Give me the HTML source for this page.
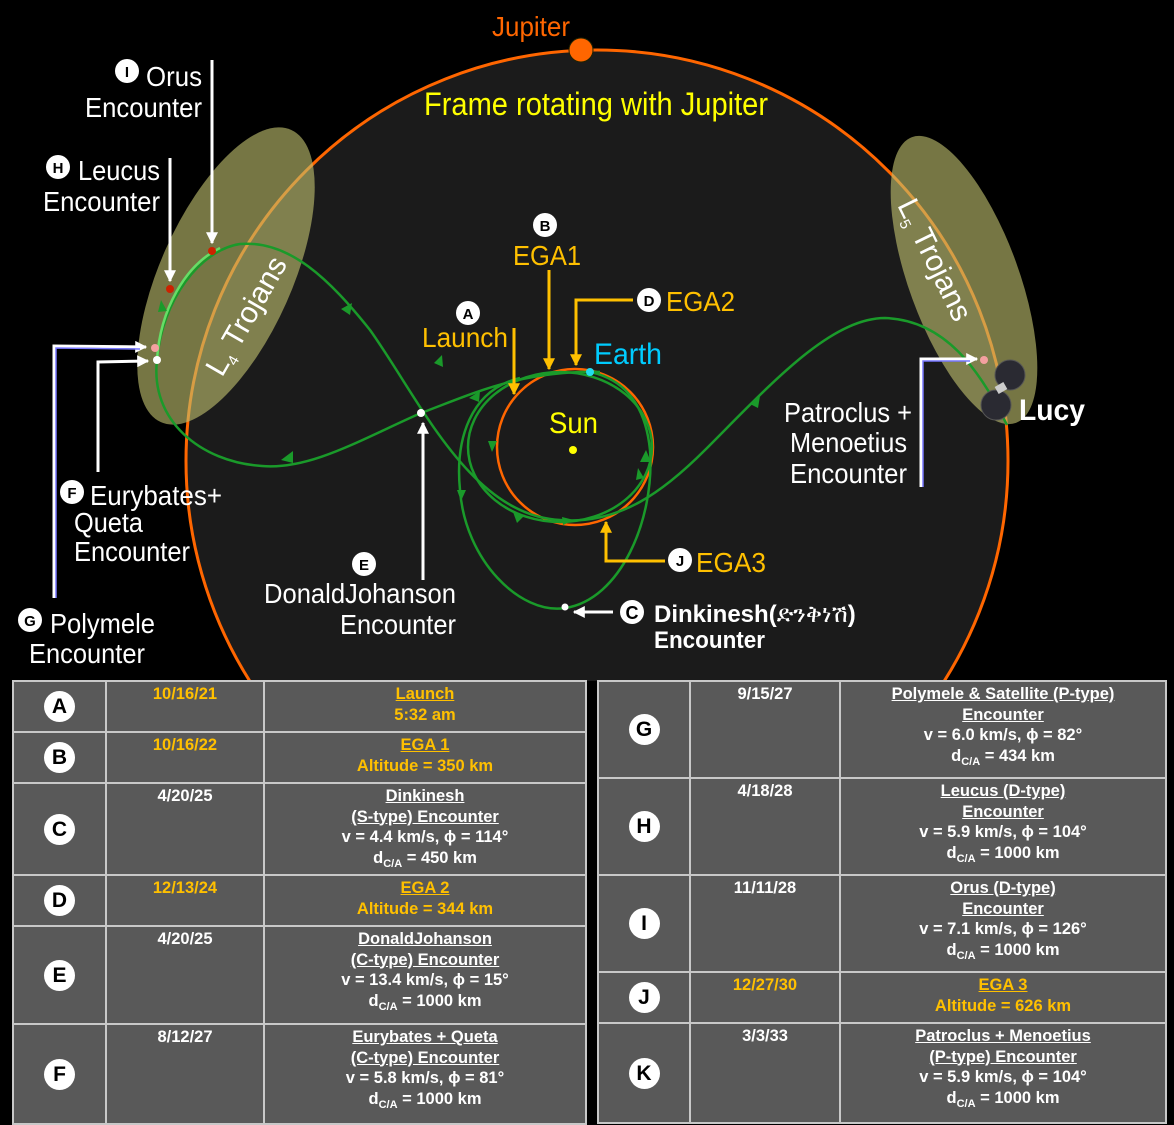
<!DOCTYPE html>
<html><head><meta charset="utf-8">
<style>
html,body{margin:0;padding:0;background:#000;}
body{width:1174px;height:1123px;overflow:hidden;position:relative;}
svg{position:absolute;left:0;top:0;}
.t{font-family:"Liberation Sans",sans-serif;}
table{position:absolute;border-collapse:collapse;font-family:"Liberation Sans",sans-serif;font-weight:bold;font-size:16.5px;color:#fff;}
td{background:#595959;border:2px solid #c8c8c8;text-align:center;vertical-align:top;padding:2px 0 0 0;line-height:20.5px;}
td.b{vertical-align:middle;padding:0;}
.badge{display:inline-block;width:31px;height:31px;border-radius:50%;background:#fff;color:#000;font-size:21px;line-height:31px;text-align:center;}
.y{color:#ffc000;}
u{text-decoration:underline;}
sub{font-size:11px;vertical-align:-4px;line-height:0;}
</style></head><body>
<svg width="1174" height="1123" viewBox="0 0 1174 1123">
<defs>
<clipPath id="top"><rect x="0" y="0" width="1174" height="681"/></clipPath>
<marker id="wa" viewBox="0 0 10 10" refX="9" refY="5" markerWidth="5" markerHeight="4" orient="auto"><path d="M0,0 L10,5 L0,10 z" fill="#fff"/></marker>
<marker id="ya" viewBox="0 0 10 10" refX="9" refY="5" markerWidth="4" markerHeight="4" orient="auto"><path d="M0,0 L10,5 L0,10 z" fill="#ffc000"/></marker>
</defs>
<rect width="1174" height="1123" fill="#000"/>
<circle cx="597" cy="461" r="411" fill="#1b1b1b" stroke="#ff6600" stroke-width="3" clip-path="url(#top)"/>
<!-- Trojan clouds -->
<ellipse cx="226" cy="276" rx="160" ry="66" transform="rotate(-66 226 276)" fill="rgba(190,190,110,0.62)"/>
<ellipse cx="964" cy="280" rx="152" ry="55" transform="rotate(70 964 280)" fill="rgba(190,190,110,0.62)"/>
<!-- Jupiter -->
<circle cx="581" cy="50" r="12" fill="#ff6600" stroke="#220" stroke-width="1"/>
<!-- Earth orbit -->
<circle cx="575" cy="447" r="78" fill="none" stroke="#ff6600" stroke-width="2.5"/>
<!-- green trajectories -->
<g fill="none" stroke="#1a9a2a" stroke-width="2.5">
<ellipse cx="560" cy="447" rx="92" ry="75"/>
<path d="M520,378 C470,390 455,440 460,490 C465,560 520,615 565,608 C620,600 655,520 650,450 C645,400 620,378 590,372"/>
<path d="M600,372 C520,370 470,395 421,413 C360,440 310,470 262,466 C200,462 150,420 157,360 C162,300 200,250 240,244 C290,240 330,280 370,330 C420,400 470,515 560,520 C620,525 665,490 705,450 C770,385 830,318 885,318 C945,320 980,370 1007,425"/>
<path d="M157,360 C160,310 185,265 220,248" stroke="#66dd66"/>
</g>
<g fill="#1a9a2a">
<path d="M281,460 l12,-9 l0,12 z"/>
<path d="M352,303 l-2,12 l-9,-6 z"/>
<path d="M158,312 l3,-12 l6,11 z"/>
<path d="M469,398 l11,-7 l-1,11 z"/>
<path d="M442,355 l1,12 l-9,-4 z"/>
<path d="M457,490 l4,11 l5,-11 z"/>
<path d="M488,441 l4,11 l5,-11 z"/>
<path d="M513,512 l12,3 l-8,8 z"/>
<path d="M562,517 l12,3 l-11,5 z"/>
<path d="M640,462 l6,-12 l5,12 z"/>
<path d="M636,480 l2,-12 l6,10 z"/>
<path d="M750,404 l10,-8 l-2,12 z"/>
</g>
<!-- dots -->
<circle cx="212" cy="251" r="4" fill="#cc2200"/>
<circle cx="170" cy="289" r="4" fill="#cc2200"/>
<circle cx="155" cy="348" r="4" fill="#f4a0a0"/>
<circle cx="157" cy="360" r="4" fill="#fff"/>
<circle cx="421" cy="413" r="4" fill="#fff"/>
<circle cx="565" cy="607" r="3.5" fill="#fff"/>
<circle cx="590" cy="372" r="4" fill="#22ddee"/>
<circle cx="573" cy="450" r="4" fill="#ffff00"/>
<circle cx="984" cy="360" r="4" fill="#f4a0a0"/>
<!-- Lucy spacecraft -->
<circle cx="1010" cy="375" r="15" fill="#2a2a32" stroke="#555" stroke-width="1"/>
<circle cx="996" cy="405" r="15" fill="#2a2a32" stroke="#555" stroke-width="1"/>
<rect x="996" y="384" width="10" height="8" fill="#ccc" transform="rotate(-30 1001 388)"/>
<!-- white pointers -->
<g stroke="#fff" stroke-width="3" fill="none">
<line x1="212" y1="60" x2="212" y2="243" marker-end="url(#wa)"/>
<line x1="170" y1="158" x2="170" y2="281" marker-end="url(#wa)"/>
<polyline points="54,598 54,346 146,347" marker-end="url(#wa)"/>
<polyline points="98,472 98,362 148,361" marker-end="url(#wa)"/>
<line x1="423" y1="580" x2="423" y2="423" marker-end="url(#wa)"/>
<line x1="613" y1="612" x2="574" y2="612" marker-end="url(#wa)"/>
<polyline points="921,487 921,359 977,359" marker-end="url(#wa)"/>
</g>
<g stroke="#7777ff" stroke-width="1.5" fill="none">
<polyline points="56,598 56,348 140,349"/>
<polyline points="923,487 923,361 970,361"/>
</g>
<!-- yellow pointers -->
<g stroke="#ffc000" stroke-width="3" fill="none">
<line x1="514" y1="328" x2="514" y2="394" marker-end="url(#ya)"/>
<line x1="549" y1="270" x2="549" y2="369" marker-end="url(#ya)"/>
<polyline points="633,300 576,300 576,365" marker-end="url(#ya)"/>
<polyline points="665,561 606,561 606,522" marker-end="url(#ya)"/>
</g>
<!-- badges -->
<g fill="#fff">
<circle cx="127" cy="71" r="12"/><circle cx="58" cy="167" r="12"/><circle cx="72" cy="492" r="12"/>
<circle cx="30" cy="620" r="12"/><circle cx="364" cy="564" r="12"/><circle cx="468" cy="313" r="12"/>
<circle cx="545" cy="225" r="12"/><circle cx="649" cy="300" r="12"/><circle cx="680" cy="560" r="12"/>
<circle cx="632" cy="612" r="12"/>
</g>
<g class="t" font-weight="bold" font-size="15" fill="#000" text-anchor="middle">
<text x="127" y="77">I</text><text x="58" y="173">H</text><text x="72" y="498">F</text>
<text x="30" y="626">G</text><text x="364" y="570">E</text><text x="468" y="319">A</text>
<text x="545" y="231">B</text><text x="649" y="306">D</text><text x="680" y="566">J</text>
<text x="632" y="619" font-size="18">C</text>
</g>
<!-- texts -->
<g class="t" font-size="28">
<text x="492" y="36" fill="#ff6600" textLength="78" lengthAdjust="spacingAndGlyphs">Jupiter</text>
<text x="424" y="115" fill="#ffff00" font-size="32" textLength="344" lengthAdjust="spacingAndGlyphs">Frame rotating with Jupiter</text>
<g fill="#fff">
<text x="146" y="86" textLength="56" lengthAdjust="spacingAndGlyphs">Orus</text>
<text x="85" y="117" textLength="117" lengthAdjust="spacingAndGlyphs">Encounter</text>
<text x="78" y="180" textLength="82" lengthAdjust="spacingAndGlyphs">Leucus</text>
<text x="43" y="211" textLength="117" lengthAdjust="spacingAndGlyphs">Encounter</text>
<text x="90" y="505" textLength="132" lengthAdjust="spacingAndGlyphs">Eurybates+</text>
<text x="74" y="532" textLength="69" lengthAdjust="spacingAndGlyphs">Queta</text>
<text x="74" y="561" textLength="116" lengthAdjust="spacingAndGlyphs">Encounter</text>
<text x="50" y="633" textLength="105" lengthAdjust="spacingAndGlyphs">Polymele</text>
<text x="29" y="663" textLength="116" lengthAdjust="spacingAndGlyphs">Encounter</text>
<text x="264" y="603" textLength="192" lengthAdjust="spacingAndGlyphs">DonaldJohanson</text>
<text x="340" y="634" textLength="116" lengthAdjust="spacingAndGlyphs">Encounter</text>
<text x="784" y="422" textLength="128" lengthAdjust="spacingAndGlyphs">Patroclus +</text>
<text x="790" y="452" textLength="117" lengthAdjust="spacingAndGlyphs">Menoetius</text>
<text x="790" y="483" textLength="117" lengthAdjust="spacingAndGlyphs">Encounter</text>
<text x="1019" y="420" font-weight="bold" font-size="30" textLength="66" lengthAdjust="spacingAndGlyphs">Lucy</text>
<text x="654" y="622" font-weight="bold" font-size="24" fill="#fff">Dinkinesh(<tspan font-family="'Noto Sans CJK SC',sans-serif" font-weight="normal">ድንቅነሽ</tspan>)</text>
<text x="654" y="648" font-weight="bold" font-size="24" textLength="111" lengthAdjust="spacingAndGlyphs">Encounter</text>
<text transform="translate(222,378) rotate(-60)" font-size="30">L<tspan font-size="15" dy="6">4</tspan><tspan dy="-6"> Trojans</tspan></text>
<text transform="translate(897,205) rotate(64)" font-size="30">L<tspan font-size="15" dy="6">5</tspan><tspan dy="-6"> Trojans</tspan></text>
</g>
<g fill="#ffc000">
<text x="422" y="347" textLength="86" lengthAdjust="spacingAndGlyphs">Launch</text>
<text x="513" y="265" textLength="68" lengthAdjust="spacingAndGlyphs">EGA1</text>
<text x="666" y="311" textLength="69" lengthAdjust="spacingAndGlyphs">EGA2</text>
<text x="696" y="572" textLength="70" lengthAdjust="spacingAndGlyphs">EGA3</text>
</g>
<text x="594" y="364" fill="#00ccff" font-size="30" textLength="68" lengthAdjust="spacingAndGlyphs">Earth</text>
<text x="549" y="433" fill="#ffff00" font-size="30" textLength="49" lengthAdjust="spacingAndGlyphs">Sun</text>
</g>
</svg>

<table style="left:12px;top:680px;width:575px;">
<colgroup><col style="width:93px"><col style="width:158px"><col></colgroup>
<tr style="height:51px"><td class="b"><span class="badge">A</span></td><td class="y">10/16/21</td><td class="y"><u>Launch</u><br>5:32 am</td></tr>
<tr style="height:51px"><td class="b"><span class="badge">B</span></td><td class="y">10/16/22</td><td class="y"><u>EGA 1</u><br>Altitude = 350 km</td></tr>
<tr style="height:92px"><td class="b"><span class="badge">C</span></td><td>4/20/25</td><td><u>Dinkinesh</u><br><u>(S-type) Encounter</u><br>v = 4.4 km/s, ϕ = 114°<br>d<sub>C/A</sub> = 450 km</td></tr>
<tr style="height:51px"><td class="b"><span class="badge">D</span></td><td class="y">12/13/24</td><td class="y"><u>EGA 2</u><br>Altitude = 344 km</td></tr>
<tr style="height:98px"><td class="b"><span class="badge">E</span></td><td>4/20/25</td><td><u>DonaldJohanson</u><br><u>(C-type) Encounter</u><br>v = 13.4 km/s, ϕ = 15°<br>d<sub>C/A</sub> = 1000 km</td></tr>
<tr style="height:100px"><td class="b"><span class="badge">F</span></td><td>8/12/27</td><td><u>Eurybates + Queta</u><br><u>(C-type) Encounter</u><br>v = 5.8 km/s, ϕ = 81°<br>d<sub>C/A</sub> = 1000 km</td></tr>
</table>

<table style="left:597px;top:680px;width:570px;">
<colgroup><col style="width:92px"><col style="width:150px"><col></colgroup>
<tr style="height:97px"><td class="b"><span class="badge">G</span></td><td>9/15/27</td><td><u>Polymele &amp; Satellite (P-type)</u><br><u>Encounter</u><br>v = 6.0 km/s, ϕ = 82°<br>d<sub>C/A</sub> = 434 km</td></tr>
<tr style="height:97px"><td class="b"><span class="badge">H</span></td><td>4/18/28</td><td><u>Leucus (D-type)</u><br><u>Encounter</u><br>v = 5.9 km/s, ϕ = 104°<br>d<sub>C/A</sub> = 1000 km</td></tr>
<tr style="height:97px"><td class="b"><span class="badge">I</span></td><td>11/11/28</td><td><u>Orus (D-type)</u><br><u>Encounter</u><br>v = 7.1 km/s, ϕ = 126°<br>d<sub>C/A</sub> = 1000 km</td></tr>
<tr style="height:51px"><td class="b"><span class="badge">J</span></td><td class="y">12/27/30</td><td class="y"><u>EGA 3</u><br>Altitude = 626 km</td></tr>
<tr style="height:100px"><td class="b"><span class="badge">K</span></td><td>3/3/33</td><td><u>Patroclus + Menoetius</u><br><u>(P-type) Encounter</u><br>v = 5.9 km/s, ϕ = 104°<br>d<sub>C/A</sub> = 1000 km</td></tr>
</table>
</body></html>
